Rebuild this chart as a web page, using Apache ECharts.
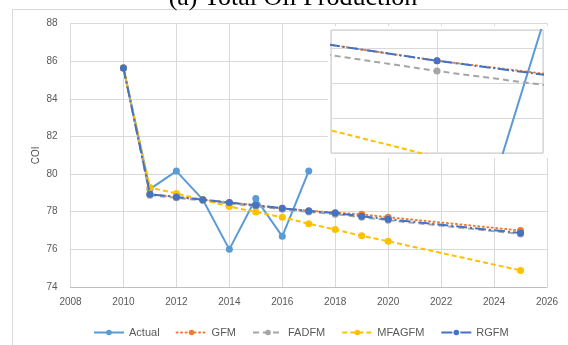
<!DOCTYPE html>
<html><head><meta charset="utf-8">
<script src="https://cdn.jsdelivr.net/npm/echarts@6/dist/echarts.min.js"></script>
<style>html,body{margin:0;padding:0;background:#fff}#c{width:568px;height:345px}</style>
</head><body><div id="c"></div>
<script>
const titleText = '(a) Total Oil Production';
const yAxisName = 'COI';
const seriesNames = ['Actual', 'GFM', 'FADFM', 'MFAGFM', 'RGFM'];
const yearsActual = [2010, 2011, 2012, 2013, 2014, 2015, 2016, 2017];
const actual = [85.64, 79.2, 80.16, 78.64, 76.0, 78.70, 76.69, 80.16];
const yearsModel = [2010, 2011, 2012, 2013, 2014, 2015, 2016, 2017, 2018, 2019, 2020, 2025];
const gfm = [85.64, 78.93, 78.78, 78.64, 78.49, 78.34, 78.18, 78.05, 77.95, 77.86, 77.71, 77.00];
const fadfm = [85.64, 78.88, 78.74, 78.59, 78.44, 78.29, 78.13, 77.99, 77.87, 77.71, 77.55, 76.82];
const mfagfm = [85.64, 79.28, 78.97, 78.63, 78.28, 77.98, 77.71, 77.36, 77.05, 76.72, 76.43, 74.88];
const rgfm = [85.64, 78.93, 78.78, 78.64, 78.49, 78.34, 78.18, 78.04, 77.93, 77.76, 77.60, 76.87];
const xMin = 2008, xMax = 2026, xStep = 2;
const yMin = 74, yMax = 88, yStep = 2;
// inset (zoom) window around 2016
const insetX = [2015.518, 2016.482];
const insetY = [77.73, 78.33];

const colors = ['#5B9BD5', '#ED7D31', '#A5A5A5', '#FFC000', '#4472C4'];
const dashes = ['solid', [1, 3.5], [6, 4], [5, 3], [11, 3, 2, 3]];
const caps = ['butt', 'round', 'butt', 'butt', 'butt'];
const xsList = [yearsActual, yearsModel, yearsModel, yearsModel, yearsModel];
const ysList = [actual, gfm, fadfm, mfagfm, rgfm];

function pairs(xs, ys) { return xs.map((x, i) => [x, ys[i]]); }

const series = [];
[0, 1].forEach(g => {
  seriesNames.forEach((name, i) => {
    series.push({
      name: name, type: 'line',
      xAxisIndex: g, yAxisIndex: g,
      data: pairs(xsList[i], ysList[i]),
      symbol: 'circle', symbolSize: 7,
      showAllSymbol: true,
      clip: true,
      z: g === 0 ? 2 + i * 0.1 : 3 + i * 0.1,
      lineStyle: { color: colors[i], width: 2, type: dashes[i], cap: caps[i] },
      itemStyle: { color: colors[i], borderWidth: 0 },
      emphasis: { disabled: true },
      animation: false
    });
  });
});

const gridColor = '#d9d9d9';
const txtColor = '#595959';
const font = 'Liberation Sans';

const option = {
  animation: false,
  textStyle: { fontFamily: font },
  grid: [
    { left: 70.5, right: 21, top: 23.5, bottom: 58, containLabel: false },
    { left: 331, top: 30, width: 212, height: 123, show: true, backgroundColor: 'rgba(0,0,0,0)', borderColor: '#c8c8c8', borderWidth: 1, z: 2 }
  ],
  xAxis: [
    { type: 'value', gridIndex: 0, min: xMin, max: xMax, interval: xStep,
      axisLine: { show: true, lineStyle: { color: '#bfbfbf', width: 1 } },
      axisTick: { show: false },
      axisLabel: { color: txtColor, fontSize: 10, margin: 10, fontFamily: font, formatter: v => String(v) },
      splitLine: { show: true, lineStyle: { color: gridColor, width: 1 } } },
    { type: 'value', gridIndex: 1, min: insetX[0], max: insetX[1], z: 2,
      axisLine: { show: false }, axisTick: { show: false }, axisLabel: { show: false }, splitLine: { show: false } },
    { type: 'value', gridIndex: 1, min: 0, max: 2, interval: 1, z: 2,
      axisLine: { show: false }, axisTick: { show: false }, axisLabel: { show: false },
      splitLine: { show: true, lineStyle: { color: gridColor, width: 1 } } }
  ],
  yAxis: [
    { type: 'value', gridIndex: 0, min: yMin, max: yMax, interval: yStep,
      name: yAxisName, nameLocation: 'middle', nameGap: 29, nameMoveOverlap: false,
      nameTextStyle: { color: txtColor, fontSize: 10, fontFamily: font },
      axisLine: { show: false }, axisTick: { show: false },
      axisLabel: { color: txtColor, fontSize: 10, margin: 13, fontFamily: font },
      splitLine: { show: true, lineStyle: { color: gridColor, width: 1 } } },
    { type: 'value', gridIndex: 1, min: insetY[0], max: insetY[1], z: 2,
      axisLine: { show: false }, axisTick: { show: false }, axisLabel: { show: false }, splitLine: { show: false } },
    { type: 'value', gridIndex: 1, min: 0, max: 3.514, interval: 1, z: 2,
      axisLine: { show: false }, axisTick: { show: false }, axisLabel: { show: false },
      splitLine: { show: true, lineStyle: { color: gridColor, width: 1 } } }
  ],
  legend: {
    data: seriesNames, left: 88, top: 322,
    itemWidth: 30, itemHeight: 7, itemGap: 16,
    textStyle: { color: txtColor, fontSize: 11, fontFamily: font },
    selectedMode: false
  },
  graphic: [
    { type: 'rect', z: 0, silent: true, shape: { x: 12.5, y: 9.5, width: 620, height: 400 },
      style: { fill: 'none', stroke: '#d9d9d9', lineWidth: 1 } },
    { type: 'rect', z: 1, silent: true, shape: { x: 328, y: 26, width: 220, height: 132 },
      style: { fill: '#ffffff', stroke: 'none' } },
    { type: 'text', z: 3, silent: true, x: 293, y: -2,
      style: { text: titleText, fill: '#000', font: '26px "Liberation Serif"', textAlign: 'center', textVerticalAlign: 'middle' } }
  ],
  series: series
};
const chart = echarts.init(document.getElementById('c'), null, { renderer: 'canvas' });
chart.setOption(option);
</script></body></html>
